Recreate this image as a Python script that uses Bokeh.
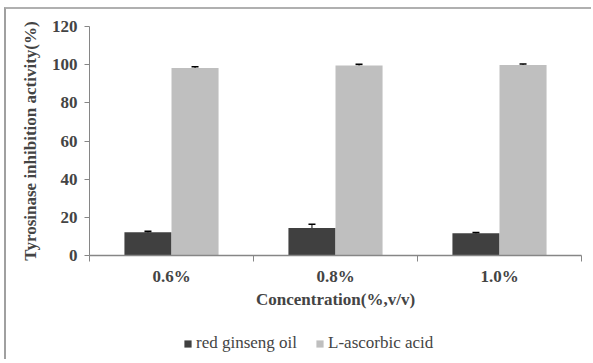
from bokeh.plotting import figure
from bokeh.layouts import column
from bokeh.models import (ColumnDataSource, Whisker, TeeHead, FixedTicker, Legend, LegendItem, Range1d)
from bokeh.embed import file_html
from bokeh.resources import INLINE

categories = ["0.6%", "0.8%", "1.0%"]
series_names = ["red ginseng oil", "L-ascorbic acid"]
red_ginseng = [12.2, 14.4, 11.6]
red_ginseng_err = [0.5, 2.0, 0.4]
ascorbic = [98.3, 99.6, 99.8]
ascorbic_err = [0.6, 0.6, 0.5]
y_ticks = [0, 20, 40, 60, 80, 100, 120]
colors = ["#404040", "#bfbfbf"]

SERIF = "Liberation Serif"
AXIS_COLOR = "#868686"

p = figure(width=585, height=310, output_backend="svg", toolbar_location=None,
           x_range=Range1d(0, len(categories)), y_range=Range1d(0, 120),
           min_border_left=83, min_border_right=10, min_border_top=17, min_border_bottom=64)
p.outline_line_color = None
p.xgrid.visible = False
p.ygrid.visible = False

bar_w = 0.287
offsets = [-bar_w / 2, bar_w / 2]
sources = []
for vals, errs, off in [(red_ginseng, red_ginseng_err, offsets[0]),
                        (ascorbic, ascorbic_err, offsets[1])]:
    xs = [i + 0.5 + off for i in range(len(categories))]
    sources.append(ColumnDataSource(dict(x=xs, top=vals,
                                         upper=[v + e for v, e in zip(vals, errs)],
                                         lower=[v - e for v, e in zip(vals, errs)])))

for src, col in zip(sources, colors):
    p.vbar(x="x", top="top", width=bar_w, source=src, fill_color=col, line_color=None)
    w = Whisker(base="x", upper="upper", lower="lower", source=src, line_color="black", line_width=1,
                upper_head=TeeHead(size=7, line_color="black", line_width=1.5),
                lower_head=TeeHead(size=7, line_color="black", line_width=1.5))
    p.add_layout(w)

# x axis
xa = p.xaxis[0]
xa.ticker = FixedTicker(ticks=[i + 0.5 for i in range(len(categories))],
                        minor_ticks=list(range(len(categories) + 1)))
xa.major_label_overrides = {i + 0.5: c for i, c in enumerate(categories)}
xa.major_tick_out = 0
xa.major_tick_in = 0
xa.minor_tick_out = 6
xa.minor_tick_in = 0
xa.minor_tick_line_color = AXIS_COLOR
xa.axis_line_color = AXIS_COLOR
xa.axis_line_width = 1.5
xa.major_label_text_font = SERIF
xa.major_label_text_font_style = "bold"
xa.major_label_text_font_size = "17px"
xa.major_label_standoff = 5
xa.axis_label = "Concentration(%,v/v)"
xa.axis_label_text_font = SERIF
xa.axis_label_text_font_style = "bold"
xa.axis_label_text_font_size = "17px"
xa.axis_label_standoff = 1

# y axis
ya = p.yaxis[0]
ya.ticker = FixedTicker(ticks=y_ticks, minor_ticks=[])
ya.major_tick_out = 5
ya.major_tick_in = 0
ya.major_tick_line_color = AXIS_COLOR
ya.axis_line_color = AXIS_COLOR
ya.axis_line_width = 1
ya.major_label_text_font = SERIF
ya.major_label_text_font_style = "bold"
ya.major_label_text_font_size = "17px"
ya.major_label_standoff = 7
ya.axis_label = "Tyrosinase inhibition activity(%)"
ya.axis_label_text_font = SERIF
ya.axis_label_text_font_style = "bold"
ya.axis_label_text_font_size = "17px"
ya.axis_label_standoff = 9

# legend strip: same sources, ranges chosen so the bars themselves are out of view
pl = figure(width=585, height=40, output_backend="svg", toolbar_location=None,
            x_range=Range1d(1000, 1001), y_range=Range1d(1000, 1001),
            x_axis_location=None, y_axis_location=None,
            min_border_left=83, min_border_right=10, min_border_top=0, min_border_bottom=0)
pl.grid.visible = False
pl.outline_line_color = None
leg_renderers = [pl.vbar(x="x", top="top", width=bar_w, source=src, fill_color=col, line_color=None)
                 for src, col in zip(sources, colors)]
legend = Legend(items=[LegendItem(label=n, renderers=[r]) for n, r in zip(series_names, leg_renderers)],
                orientation="horizontal", location=(94, 6),
                label_text_font=SERIF, label_text_font_size="17px",
                glyph_width=9, glyph_height=9, spacing=18, label_standoff=4,
                padding=0, margin=0, border_line_color=None, background_fill_alpha=0)
pl.add_layout(legend, "center")

layout = column(p, pl, spacing=0)
layout.styles = {"margin-top": "7px", "margin-left": "4px",
                 "border-top": "2px solid #b0b0b0", "border-left": "2px solid #a0a0a0"}

open("out.html", "w").write(file_html(layout, INLINE))
